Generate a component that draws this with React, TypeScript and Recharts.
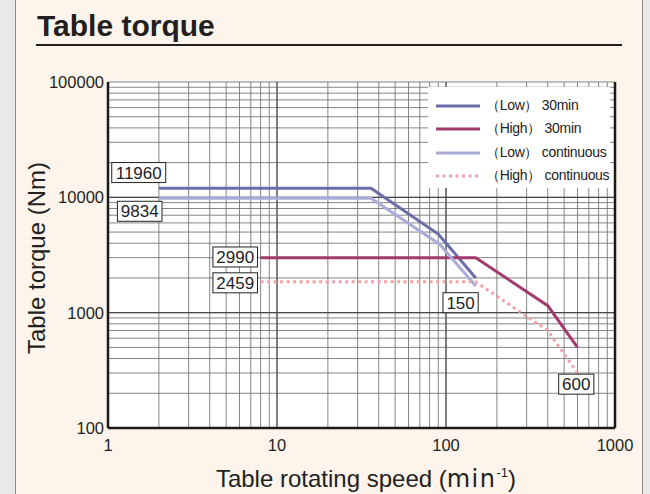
import React from "react";
import {
  LineChart,
  Line,
  XAxis,
  YAxis,
  CartesianGrid,
  ReferenceLine,
  ReferenceDot,
} from "recharts";

// speeds (min-1) and torques (Nm)
const lowSpeed30 = [2, 36, 90, 150];
const lowTorque30 = [11960, 11960, 4800, 2000];
const highSpeed30 = [8, 150, 400, 600];
const highTorque30 = [2990, 2990, 1150, 500];
const lowSpeedCont = [2, 36, 92, 150];
const lowTorqueCont = [9834, 9834, 3900, 1700];
const highSpeedCont = [8, 150, 400, 600];
const highTorqueCont = [1850, 1850, 700, 300];

const xTicks = [1, 2, 3, 4, 5, 6, 7, 8, 9, 10, 20, 30, 40, 50, 60, 70, 80, 90, 100, 200, 300, 400, 500, 600, 700, 800, 900, 1000];
const yTicks = [100, 200, 300, 400, 500, 600, 700, 800, 900, 1000, 2000, 3000, 4000, 5000, 6000, 7000, 8000, 9000, 10000, 20000, 30000, 40000, 50000, 60000, 70000, 80000, 90000, 100000];
const decadesX = [10, 100];
const decadesY = [1000, 10000];

// callout boxes, placed in data units
const callouts = [
  { x: 1.52, y: 16400, text: "11960" },
  { x: 1.54, y: 7570, text: "9834" },
  { x: 5.66, y: 3040, text: "2990" },
  { x: 5.66, y: 1815, text: "2459" },
  { x: 122, y: 1220, text: "150" },
  { x: 590, y: 240, text: "600" },
];

const toPoints = (xs: number[], ys: number[]) => xs.map((x, i) => ({ x, y: ys[i] }));

const series = [
  { name: "（Low） 30min", color: "#6a6ea8", dash: undefined, data: toPoints(lowSpeed30, lowTorque30) },
  { name: "（High） 30min", color: "#a33a6f", dash: undefined, data: toPoints(highSpeed30, highTorque30) },
  { name: "（Low） continuous", color: "#a9acd9", dash: undefined, data: toPoints(lowSpeedCont, lowTorqueCont) },
  { name: "（High） continuous", color: "#f2a2a9", dash: "3 3.5", data: toPoints(highSpeedCont, highTorqueCont) },
];

const font = "'Liberation Sans', Arial, sans-serif";
const ink = "#231f20";
const isDecade = (v: number) => Math.abs(Math.log10(v) - Math.round(Math.log10(v))) < 1e-9;

function CalloutBox(props: any) {
  const { cx, cy, text } = props;
  const w = text.length * 9.4 + 7;
  const h = 20;
  return (
    <g>
      <rect x={cx - w / 2} y={cy - h / 2} width={w} height={h} fill="#fff" stroke="#222" strokeWidth={1} />
      <text x={cx} y={cy + 6} textAnchor="middle" fontSize={17} fontFamily={font} fill="#222">
        {text}
      </text>
    </g>
  );
}

function LegendBox() {
  return (
    <div
      style={{
        position: "absolute",
        left: 428,
        top: 87,
        width: 182,
        height: 101,
        background: "#fff",
        paddingTop: 7,
        boxSizing: "border-box",
        fontFamily: font,
      }}
    >
      {series.map((s) => (
        <div key={s.name} style={{ display: "flex", alignItems: "center", height: 23.5 }}>
          <svg width={58} height={8} style={{ flex: "none" }}>
            <line x1={8} y1={4} x2={52} y2={4} stroke={s.color} strokeWidth={3} strokeDasharray={s.dash} />
          </svg>
          <span style={{ fontSize: 14, color: "#222", whiteSpace: "pre", letterSpacing: -0.3 }}>{s.name}</span>
        </div>
      ))}
    </div>
  );
}

export default function App() {
  return (
    <div style={{ position: "absolute", left: 0, top: 0, width: 650, height: 494, background: "#e9e9e9", overflow: "hidden" }}>
      <div
        style={{
          position: "absolute",
          left: 15,
          top: -2,
          width: 626,
          height: 500,
          background: "#fdf5ec",
          borderLeft: "1px solid #8a8a8a",
          borderRight: "1px solid #8a8a8a",
        }}
      />
      <div style={{ position: "absolute", left: 0, top: 0 }}>
        <LineChart width={650} height={494} margin={{ top: 82, right: 35, bottom: 36, left: 48 }}>
          <CartesianGrid stroke="#777" strokeWidth={0.9} fill="#fff" fillOpacity={1} />
          <XAxis
            dataKey="x"
            type="number"
            scale="log"
            domain={[1, 1000]}
            ticks={xTicks}
            interval={0}
            allowDuplicatedCategory={false}
            tickFormatter={(v: number) => (isDecade(v) ? String(v) : "")}
            tickLine={false}
            tickMargin={5}
            axisLine={{ stroke: "#1a1a1a", strokeWidth: 2.5 }}
            tick={{ fill: ink, fontSize: 16.5, fontFamily: font }}
            height={30}
          />
          <YAxis
            dataKey="y"
            type="number"
            scale="log"
            domain={[100, 100000]}
            ticks={yTicks}
            interval={0}
            tickFormatter={(v: number) => (isDecade(v) ? String(v) : "")}
            tickLine={false}
            tickMargin={-2}
            axisLine={{ stroke: "#1a1a1a", strokeWidth: 2.5 }}
            tick={{ fill: ink, fontSize: 16.5, fontFamily: font }}
            width={60}
          />
          {decadesX.map((v) => (
            <ReferenceLine key={"x" + v} x={v} stroke="#4a4a4a" strokeWidth={1.1} />
          ))}
          {decadesY.map((v) => (
            <ReferenceLine key={"y" + v} y={v} stroke="#4a4a4a" strokeWidth={1.1} />
          ))}
          <ReferenceLine x={1000} stroke="#1a1a1a" strokeWidth={2.5} />
          {series.map((s) => (
            <Line
              key={s.name}
              data={s.data}
              dataKey="y"
              name={s.name}
              stroke={s.color}
              strokeWidth={3}
              strokeDasharray={s.dash}
              dot={false}
              activeDot={false}
              isAnimationActive={false}
            />
          ))}
          {callouts.map((c) => (
            <ReferenceDot
              key={c.text}
              x={c.x}
              y={c.y}
              r={0}
              ifOverflow="visible"
              shape={(p: any) => <CalloutBox {...p} text={c.text} />}
            />
          ))}
        </LineChart>
      </div>
      <LegendBox />
      <svg width={650} height={494} style={{ position: "absolute", left: 0, top: 0, pointerEvents: "none" }}>
        <text x={37} y={36} fontFamily={font} fontWeight={700} fontSize={30} fill={ink}>
          Table torque
        </text>
        <rect x={36} y={44} width={586} height={2} fill={ink} />
        <text
          x={45}
          y={258}
          transform="rotate(-90 45 258)"
          textAnchor="middle"
          fontFamily={font}
          fontSize={24}
          fill={ink}
        >
          Table torque (Nm)
        </text>
        <text x={366} y={487} textAnchor="middle" fontFamily={font} fontSize={24} fill={ink}>
          Table rotating speed (
          <tspan fontFamily="'DejaVu Sans', sans-serif" letterSpacing={1.5}>min</tspan>
          <tspan fontSize={13} dy={-10}>-1</tspan>
          <tspan dy={10}>)</tspan>
        </text>
      </svg>
    </div>
  );
}
